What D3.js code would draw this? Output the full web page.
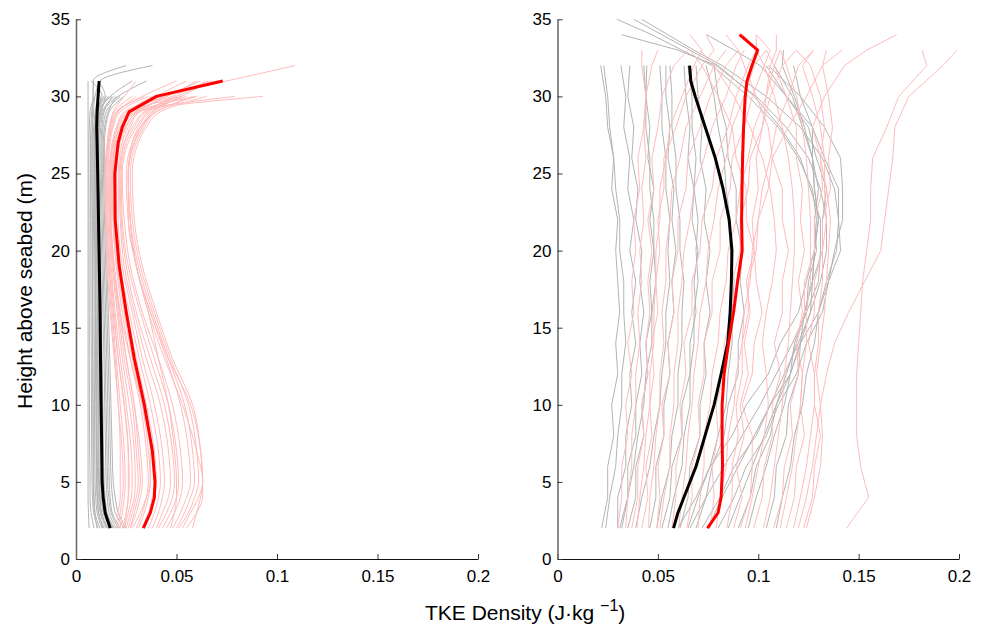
<!DOCTYPE html>
<html><head><meta charset="utf-8">
<script src="https://cdn.jsdelivr.net/npm/d3@7"></script>
<style>
body{margin:0;background:#fff;}
svg text{font-family:"Liberation Sans",Arial,Helvetica,sans-serif;fill:#000;}
</style>
</head><body>
<svg id="chart" width="986" height="630"></svg>
<script>
// ---------------- DATA ----------------
const xTickValues = [0, 0.05, 0.1, 0.15, 0.2];
const xTickLabels = ["0", "0.05", "0.1", "0.15", "0.2"];
const yTickValues = [0, 5, 10, 15, 20, 25, 30, 35];
const yLabel = "Height above seabed (m)";
const xLabelMain = "TKE Density (J\u00B7kg ";
const xLabelSup = "\u22121";

// Left panel: heights (m) of the profile samples
const heightsLeft = [2,3,4,5,7,10,13,16,19,22,25,27,28,29,30,31,32];
// Left panel, grey individual profiles (TKE density, J/kg)
const greyLeft = [
 [0.0065,0.0062,0.006,0.006,0.006,0.006,0.006,0.006,0.006,0.006,0.006,0.006,0.006,0.006,0.006,0.006],
 [0.009,0.0075,0.007,0.007,0.0068,0.0067,0.0066,0.0066,0.0065,0.0065,0.0064,0.0064,0.0066,0.007,0.0085,0.0085,0.025],
 [0.011,0.0088,0.0082,0.008,0.0078,0.0077,0.0076,0.0075,0.0074,0.0073,0.0072,0.0072,0.0074,0.0078,0.009],
 [0.012,0.0095,0.009,0.0088,0.0086,0.0085,0.0084,0.0083,0.0082,0.0081,0.008,0.008,0.0082,0.0087,0.0095,0.012,0.038],
 [0.013,0.0105,0.0098,0.0095,0.0093,0.0092,0.0091,0.009,0.0089,0.0087,0.0085,0.0085,0.0088,0.0095,0.011],
 [0.014,0.0112,0.0105,0.0102,0.010,0.0099,0.0097,0.0096,0.0094,0.0092,0.009,0.009,0.0093,0.010,0.013,0.0075],
 [0.015,0.012,0.0112,0.0108,0.0106,0.0104,0.0102,0.010,0.0098,0.0096,0.0094,0.0094,0.0097,0.0105,0.014],
 [0.016,0.0128,0.012,0.0116,0.0114,0.0112,0.011,0.0107,0.0104,0.0101,0.0098,0.0097,0.0101,0.011,0.015],
 [0.017,0.0135,0.0126,0.0122,0.012,0.0118,0.0115,0.0112,0.0109,0.0106,0.0103,0.0102,0.0106,0.0118,0.017,0.028],
 [0.018,0.0145,0.0135,0.013,0.0128,0.0125,0.0122,0.0118,0.0114,0.011,0.0107,0.0106,0.011,0.012,0.016],
 [0.019,0.0155,0.0145,0.014,0.0137,0.0134,0.013,0.0126,0.0122,0.0118,0.0114,0.0113,0.0117,0.013,0.019],
 [0.020,0.0165,0.0155,0.015,0.0147,0.0143,0.0139,0.0134,0.0129,0.0124,0.012,0.0119,0.0123,0.0135,0.021,0.035],
 [0.021,0.0175,0.0163,0.0157,0.0154,0.015,0.0145,0.014,0.0135,0.013,0.0126,0.0125,0.0129,0.014,0.018],
 [0.022,0.018,0.017,0.0165,0.0162,0.0158,0.0153,0.0147,0.0141,0.0136,0.0131,0.013,0.0135,0.015,0.022],
 [0.024,0.0195,0.0182,0.0175,0.0171,0.0166,0.016,0.0154,0.0148,0.0142,0.0137,0.0136,0.0142,0.016,0.020],
 [0.025,0.021,0.0195,0.0185,0.018,0.0174,0.0168,0.0161,0.0154,0.0148,0.0143,0.0142,0.0148,0.0165,0.024],
 [0.0105,0.0092,0.0088,0.0086,0.0085,0.0084,0.0083,0.0082,0.0081,0.008,0.0079,0.0079,0.008,0.0082,0.0085,0.0088],
 [0.0155,0.0125,0.0117,0.0113,0.0111,0.0109,0.0107,0.0105,0.0103,0.0101,0.0099,0.0099,0.0102,0.0112,0.0125],
 [0.0135,0.0112,0.0107,0.0104,0.0102,0.0101,0.0099,0.0097,0.0096,0.0094,0.0092,0.0092,0.0095,0.0108,0.0175],
 [0.0185,0.015,0.014,0.0135,0.0133,0.013,0.0126,0.0122,0.0118,0.0115,0.0111,0.011,0.0114,0.0125,0.0145,0.011]
];
// Left panel, pink individual profiles
const pinkLeft = [
 [0.020,0.021,0.022,0.022,0.022,0.021,0.019,0.017,0.0155,0.0148,0.0145,0.0155,0.0165,0.019,0.028],
 [0.022,0.023,0.024,0.0245,0.024,0.022,0.020,0.018,0.0165,0.0155,0.015,0.016,0.017,0.020,0.033,0.050],
 [0.023,0.025,0.026,0.0265,0.026,0.024,0.021,0.019,0.017,0.016,0.0155,0.0165,0.018,0.021,0.030],
 [0.024,0.026,0.0275,0.028,0.0275,0.025,0.022,0.0195,0.0175,0.0165,0.016,0.017,0.0185,0.022,0.036],
 [0.025,0.027,0.029,0.0295,0.029,0.0265,0.023,0.0205,0.018,0.0168,0.0165,0.018,0.020,0.024,0.045,0.060],
 [0.026,0.028,0.030,0.031,0.030,0.028,0.024,0.021,0.0185,0.017,0.017,0.0185,0.021,0.026,0.042],
 [0.027,0.029,0.031,0.032,0.031,0.029,0.025,0.022,0.019,0.0175,0.0175,0.019,0.022,0.028,0.040,0.055],
 [0.028,0.032,0.035,0.037,0.037,0.033,0.027,0.022,0.019,0.0175,0.018,0.0195,0.022,0.026,0.038],
 [0.030,0.033,0.035,0.036,0.035,0.032,0.027,0.023,0.020,0.0183,0.018,0.020,0.023,0.029,0.048],
 [0.031,0.034,0.036,0.037,0.036,0.033,0.028,0.024,0.0205,0.0187,0.0185,0.0205,0.0235,0.030,0.060],
 [0.033,0.036,0.038,0.039,0.038,0.034,0.029,0.025,0.021,0.019,0.019,0.021,0.024,0.027,0.044,0.068],
 [0.034,0.037,0.039,0.040,0.039,0.035,0.030,0.0255,0.0215,0.0195,0.0195,0.0215,0.0245,0.031,0.079],
 [0.036,0.039,0.041,0.042,0.041,0.037,0.0315,0.0265,0.022,0.020,0.020,0.022,0.025,0.030,0.040,0.075,0.109],
 [0.038,0.041,0.043,0.044,0.043,0.039,0.033,0.028,0.023,0.021,0.021,0.023,0.026,0.032,0.093],
 [0.040,0.043,0.046,0.047,0.046,0.042,0.035,0.029,0.024,0.022,0.0215,0.024,0.027,0.031,0.045,0.062],
 [0.041,0.045,0.048,0.049,0.048,0.044,0.037,0.030,0.025,0.0225,0.022,0.024,0.028,0.034,0.050],
 [0.043,0.047,0.050,0.051,0.050,0.046,0.039,0.032,0.026,0.023,0.0225,0.025,0.029,0.035,0.055],
 [0.045,0.049,0.052,0.053,0.052,0.048,0.041,0.033,0.027,0.024,0.023,0.026,0.030,0.036,0.048,0.066],
 [0.047,0.049,0.050,0.050,0.049,0.046,0.041,0.036,0.030,0.027,0.026,0.028,0.031,0.037,0.053],
 [0.048,0.052,0.055,0.057,0.056,0.052,0.045,0.037,0.030,0.026,0.025,0.028,0.032,0.040,0.058],
 [0.050,0.054,0.057,0.059,0.058,0.054,0.046,0.038,0.031,0.027,0.026,0.029,0.033,0.038,0.050,0.070],
 [0.051,0.056,0.059,0.061,0.060,0.056,0.047,0.039,0.032,0.028,0.027,0.030,0.034,0.040,0.060],
 [0.053,0.057,0.061,0.063,0.062,0.058,0.048,0.040,0.033,0.029,0.028,0.031,0.035,0.042,0.065],
 [0.055,0.060,0.063,0.063,0.060,0.053,0.044,0.036,0.030,0.026,0.026,0.029,0.032,0.038,0.050],
 [0.058,0.060,0.062,0.063,0.062,0.057,0.046,0.037,0.030,0.027,0.026,0.029,0.033,0.039,0.052],
 [0.021,0.022,0.023,0.0235,0.023,0.021,0.0195,0.0175,0.016,0.015,0.0148,0.0158,0.017,0.0185,0.024,0.030],
 [0.024,0.025,0.026,0.026,0.026,0.024,0.021,0.0185,0.0165,0.0155,0.015,0.016,0.0175,0.0205,0.034],
 [0.027,0.030,0.032,0.033,0.032,0.029,0.025,0.0215,0.0188,0.0172,0.017,0.0185,0.0205,0.025,0.052,0.064]
];
// Left panel means
const meanHeightsLeft = [2,3,4,5,7,10,13,16,19,22,25,27,28,29,30,31];
const blackMeanLeft = [0.017,0.0145,0.0135,0.013,0.0128,0.0125,0.0122,0.012,0.0116,0.0112,0.0108,0.0105,0.0103,0.0105,0.011,0.0115];
const redMeanLeft = [0.0335,0.037,0.039,0.0393,0.038,0.034,0.029,0.025,0.0215,0.0195,0.0193,0.021,0.023,0.0264,0.040,0.073];

// Right panel: heights (m) of the profile samples
const heightsRight = [2,4,6,8,10,12,14,16,18,20,22,24,26,28,30,32,33,34,35];
const greyRight = [
 [0.022,0.025,0.025,0.028,0.027,0.030,0.029,0.031,0.030,0.029,0.030,0.027,0.028,0.025,0.024,0.0215],
 [0.024,0.026,0.029,0.030,0.032,0.032,0.034,0.033,0.033,0.031,0.031,0.029,0.028,0.026,0.025,0.023],
 [0.030,0.030,0.034,0.034,0.037,0.036,0.039,0.037,0.039,0.036,0.038,0.035,0.036,0.033,0.034,0.0316],
 [0.031,0.035,0.035,0.039,0.039,0.042,0.041,0.043,0.041,0.042,0.039,0.040,0.037,0.038,0.035,0.036],
 [0.032,0.035,0.038,0.040,0.043,0.044,0.047,0.047,0.049,0.048,0.048,0.046,0.046,0.044,0.044,0.043],
 [0.035,0.039,0.039,0.043,0.042,0.045,0.044,0.047,0.046,0.048,0.046,0.048,0.045,0.046,0.044,0.0445],
 [0.039,0.042,0.046,0.048,0.051,0.052,0.054,0.054,0.056,0.055,0.056,0.054,0.054,0.052,0.052,0.051],
 [0.046,0.049,0.049,0.053,0.053,0.056,0.055,0.058,0.057,0.059,0.057,0.058,0.055,0.056,0.054,0.054],
 [0.0495,0.052,0.056,0.057,0.060,0.060,0.062,0.062,0.063,0.061,0.061,0.059,0.059,0.057,0.057,0.056],
 [0.052,0.056,0.057,0.062,0.062,0.066,0.066,0.069,0.068,0.070,0.067,0.068,0.065,0.066,0.064,0.063],
 [0.055,0.058,0.062,0.063,0.066,0.066,0.068,0.068,0.070,0.069,0.070,0.068,0.069,0.067,0.067,0.065],
 [0.061,0.065,0.066,0.071,0.071,0.074,0.073,0.076,0.074,0.076,0.073,0.074,0.071,0.072,0.070,0.069],
 [0.065,0.070,0.076,0.080,0.084,0.085,0.087,0.087,0.088,0.086,0.086,0.084,0.083,0.080,0.078,0.074],
 [0.069,0.074,0.077,0.083,0.085,0.090,0.090,0.093,0.091,0.092,0.089,0.089,0.085,0.084,0.080,0.078],
 [0.060,0.069,0.076,0.087,0.094,0.105,0.111,0.120,0.124,0.128,0.129,0.127,0.120,0.110,0.095,0.077,0.062,0.047,0.0296],
 [0.066,0.074,0.083,0.092,0.101,0.109,0.117,0.124,0.130,0.131,0.131,0.126,0.121,0.111,0.098,0.080,0.066,0.052,0.038],
 [0.072,0.081,0.088,0.099,0.106,0.116,0.121,0.130,0.134,0.139,0.140,0.138,0.132,0.121,0.104,0.082,0.068,0.055,0.042],
 [0.075,0.082,0.090,0.098,0.106,0.113,0.120,0.126,0.131,0.134,0.134,0.131,0.125,0.114,0.099,0.079,0.060,0.032],
 [0.080,0.088,0.094,0.104,0.110,0.119,0.124,0.132,0.135,0.141,0.140,0.140,0.133,0.127,0.114,0.101,0.088,0.0744],
 [0.085,0.091,0.097,0.103,0.109,0.114,0.119,0.123,0.127,0.128,0.130,0.128,0.127,0.123,0.118,0.112,0.1126],
 [0.090,0.096,0.099,0.106,0.109,0.116,0.118,0.124,0.125,0.129,0.128,0.130,0.127,0.127,0.121,0.1176],
 [0.095,0.099,0.104,0.108,0.113,0.116,0.121,0.123,0.127,0.128,0.130,0.128,0.127,0.122,0.117,0.108],
 [0.104,0.108,0.109,0.114,0.115,0.120,0.121,0.126,0.127,0.132,0.132,0.134,0.129,0.125,0.114,0.104],
 [0.109,0.112,0.116,0.118,0.122,0.124,0.128,0.130,0.135,0.138,0.142,0.142,0.141,0.133,0.121,0.105]
];
const pinkRight = [
 [0.030,0.032,0.032,0.035,0.034,0.037,0.035,0.038,0.037,0.039,0.038,0.041,0.040,0.043,0.044,0.047,0.050],
 [0.034,0.035,0.037,0.037,0.039,0.039,0.041,0.040,0.042,0.041,0.043,0.042,0.044,0.043,0.044,0.042,0.042],
 [0.037,0.040,0.040,0.043,0.042,0.045,0.044,0.046,0.045,0.047,0.045,0.048,0.047,0.050,0.052,0.058,0.065],
 [0.0396,0.041,0.043,0.044,0.046,0.046,0.048,0.048,0.049,0.049,0.051,0.051,0.054,0.056,0.062,0.068,0.072,0.066],
 [0.042,0.045,0.044,0.047,0.046,0.048,0.047,0.050,0.049,0.051,0.050,0.053,0.053,0.059,0.064,0.072,0.078,0.074],
 [0.0454,0.046,0.048,0.049,0.051,0.051,0.053,0.052,0.054,0.054,0.056,0.057,0.061,0.064,0.071,0.078,0.084],
 [0.0495,0.051,0.050,0.053,0.052,0.056,0.055,0.058,0.057,0.060,0.060,0.064,0.065,0.071,0.076,0.084,0.090,0.084],
 [0.051,0.053,0.056,0.056,0.058,0.058,0.060,0.060,0.062,0.063,0.066,0.068,0.073,0.077,0.084,0.089,0.093],
 [0.057,0.059,0.059,0.062,0.061,0.064,0.063,0.067,0.067,0.071,0.072,0.077,0.079,0.085,0.089,0.095,0.099,0.0925],
 [0.0603,0.062,0.064,0.065,0.067,0.068,0.070,0.071,0.074,0.075,0.078,0.080,0.084,0.087,0.093,0.098,0.104],
 [0.0645,0.067,0.067,0.071,0.070,0.073,0.073,0.077,0.077,0.081,0.081,0.086,0.087,0.093,0.097,0.103,0.106,0.099],
 [0.070,0.071,0.073,0.073,0.076,0.077,0.080,0.081,0.084,0.085,0.089,0.091,0.095,0.098,0.104,0.108,0.111],
 [0.076,0.078,0.077,0.080,0.079,0.083,0.083,0.087,0.087,0.091,0.091,0.095,0.096,0.102,0.106,0.112,0.119],
 [0.079,0.081,0.084,0.085,0.088,0.089,0.092,0.093,0.096,0.097,0.100,0.102,0.106,0.109,0.115,0.120,0.1276],
 [0.0844,0.087,0.087,0.090,0.089,0.092,0.092,0.095,0.095,0.099,0.100,0.105,0.107,0.115,0.124,0.132,0.1417],
 [0.0877,0.092,0.089,0.093,0.091,0.095,0.093,0.096,0.094,0.098,0.097,0.100,0.099,0.102,0.104,0.106,0.109,0.109],
 [0.091,0.096,0.097,0.097,0.092,0.097,0.098,0.102,0.099,0.098,0.094,0.094,0.089,0.087,0.080,0.072,0.066],
 [0.0935,0.097,0.100,0.103,0.105,0.104,0.102,0.104,0.107,0.109,0.108,0.106,0.102,0.096,0.088,0.078,0.071],
 [0.0977,0.102,0.103,0.107,0.107,0.111,0.108,0.112,0.112,0.115,0.112,0.112,0.107,0.105,0.099,0.093,0.090],
 [0.1026,0.106,0.108,0.110,0.112,0.113,0.115,0.116,0.117,0.118,0.118,0.117,0.115,0.112,0.108,0.103,0.099,0.099],
 [0.1076,0.112,0.113,0.117,0.116,0.120,0.119,0.122,0.120,0.123,0.121,0.122,0.119,0.119,0.114,0.108,0.104],
 [0.111,0.114,0.117,0.119,0.121,0.122,0.124,0.124,0.126,0.126,0.126,0.125,0.124,0.122,0.119,0.114,0.111],
 [0.114,0.118,0.119,0.123,0.121,0.122,0.119,0.123,0.123,0.128,0.128,0.132,0.131,0.133,0.131,0.126,0.119],
 [0.1176,0.121,0.124,0.126,0.128,0.128,0.130,0.130,0.132,0.132,0.134,0.133,0.133,0.131,0.127,0.122,0.1276],
 [0.1226,0.127,0.128,0.131,0.128,0.128,0.125,0.128,0.128,0.132,0.132,0.136,0.135,0.137,0.135,0.132,0.134],
 [0.124,0.128,0.131,0.132,0.131,0.129,0.131,0.133,0.134,0.135,0.136,0.134,0.131,0.127,0.133,0.143,0.154,0.169],
 [0.144,0.155,0.151,0.149,0.149,0.149,0.150,0.151,0.152,0.154,0.156,0.156,0.157,0.164,0.170,0.184,0.1816],
 [0.120,0.124,0.127,0.129,0.131,0.134,0.138,0.145,0.153,0.161,0.163,0.165,0.167,0.168,0.175,0.192,0.199]
];
// Right panel means
const meanHeightsRight = [2,3,4,6,8,10,12,14,16,18,20,22,24,26,28,30,31,32,33,34];
const blackMeanRight = [0.0578,0.060,0.063,0.069,0.0735,0.078,0.0815,0.0848,0.086,0.0866,0.0869,0.0855,0.0825,0.0786,0.0736,0.0686,0.0664,0.0658];
const redMeanRight = [0.0747,0.080,0.0815,0.0822,0.082,0.082,0.083,0.0852,0.0877,0.0897,0.092,0.0917,0.0919,0.0922,0.0927,0.0935,0.0944,0.0969,0.0997,0.0907];

// ---------------- DRAW ----------------
const svg = d3.select("#chart");
const yScale = d3.scaleLinear().domain([0, 35]).range([559, 19.3]);

const panels = [
  {x0: 76, x1: 478, heights: heightsLeft, grey: greyLeft, pink: pinkLeft,
   mh: meanHeightsLeft, black: blackMeanLeft, red: redMeanLeft, curve: d3.curveMonotoneY},
  {x0: 557.5, x1: 959, heights: heightsRight, grey: greyRight, pink: pinkRight,
   mh: meanHeightsRight, black: blackMeanRight, red: redMeanRight, curve: d3.curveLinear}
];

panels.forEach(p => {
  const xScale = d3.scaleLinear().domain([0, 0.2]).range([p.x0, p.x1]);
  const g = svg.append("g");
  const mk = (vals, hs, curve) => d3.line()
      .x(d => xScale(d[0])).y(d => yScale(d[1])).curve(curve)(vals.map((v, i) => [v, hs[i]]));

  g.selectAll("path.grey").data(p.grey).join("path").attr("class","grey")
    .attr("d", d => mk(d, p.heights, p.curve))
    .attr("fill","none").attr("stroke","#b4b4b4").attr("stroke-width",1);
  g.selectAll("path.pink").data(p.pink).join("path").attr("class","pink")
    .attr("d", d => mk(d, p.heights, p.curve))
    .attr("fill","none").attr("stroke","#ffbcbc").attr("stroke-width",1);
  g.append("path").attr("d", mk(p.black, p.mh, d3.curveLinear))
    .attr("fill","none").attr("stroke","#000").attr("stroke-width",3).attr("stroke-linejoin","round");
  g.append("path").attr("d", mk(p.red, p.mh, d3.curveLinear))
    .attr("fill","none").attr("stroke","#ff0000").attr("stroke-width",3).attr("stroke-linejoin","round");

  const xAxis = d3.axisBottom(xScale).tickValues(xTickValues)
    .tickFormat((d, i) => xTickLabels[i]).tickSizeInner(-5).tickSizeOuter(0).tickPadding(11);
  const gx = svg.append("g").attr("transform", "translate(0,559)").call(xAxis);
  gx.select(".domain").attr("stroke", "#111");
  gx.selectAll(".tick line").attr("stroke", "#333");
  gx.selectAll("text").attr("font-size", 17).attr("font-family", '"Liberation Sans",Arial,sans-serif');

  const yAxis = d3.axisLeft(yScale).tickValues(yTickValues)
    .tickSizeInner(-5).tickSizeOuter(0).tickPadding(6);
  const gy = svg.append("g").attr("transform", `translate(${p.x0},0)`).call(yAxis);
  gy.select(".domain").attr("stroke", "#666").attr("stroke-width", 1.5);
  gy.selectAll(".tick line").attr("stroke", "#333");
  gy.selectAll("text").attr("font-size", 17).attr("font-family", '"Liberation Sans",Arial,sans-serif');
});

svg.append("text").attr("transform", "translate(32,291) rotate(-90)")
  .attr("text-anchor", "middle").attr("font-size", 21).text(yLabel);

const xl = svg.append("text").attr("x", 425).attr("y", 620).attr("font-size", 21);
xl.append("tspan").text(xLabelMain);
xl.append("tspan").attr("dy", -9).attr("font-size", 16).text(xLabelSup);
xl.append("tspan").attr("dy", 9).text(")");
</script>
</body></html>
